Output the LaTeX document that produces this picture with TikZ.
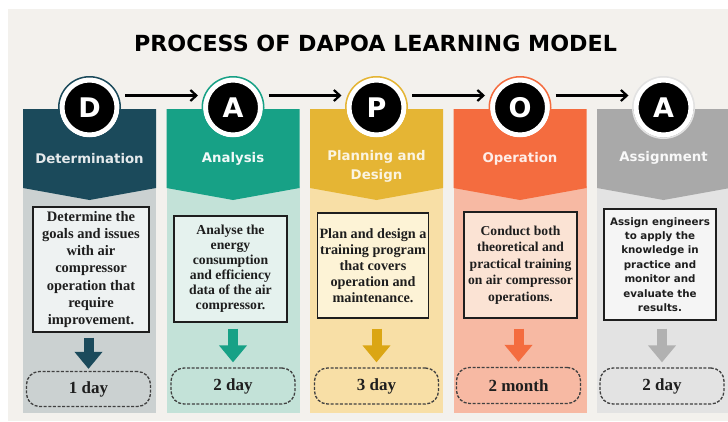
\documentclass[tikz,border=0pt]{standalone}
\usepackage{fontspec}
\setmainfont{Liberation Serif}
\newfontfamily\headfont{DejaVu Sans}
\usetikzlibrary{arrows.meta,calc}

% palette
\definecolor{pagebg}{HTML}{F3F1ED}
\definecolor{hdA}{HTML}{1B4A5B}\definecolor{bdA}{HTML}{CBD1D1}\definecolor{bxA}{HTML}{EEF2F2}
\definecolor{hdB}{HTML}{17A186}\definecolor{bdB}{HTML}{C3E2D8}\definecolor{bxB}{HTML}{E5F2EE}
\definecolor{hdC}{HTML}{E5B534}\definecolor{bdC}{HTML}{F8DFA6}\definecolor{bxC}{HTML}{FDF3D6}
\definecolor{hdD}{HTML}{F46C3F}\definecolor{bdD}{HTML}{F7B9A3}\definecolor{bxD}{HTML}{FBE3D4}
\definecolor{hdE}{HTML}{A9A9A9}\definecolor{bdE}{HTML}{E3E3E3}\definecolor{bxE}{HTML}{F5F5F5}
\definecolor{arC}{HTML}{DBA614}
\definecolor{ringE}{HTML}{E2E2E2}
\definecolor{inkdark}{HTML}{1E1E1E}

\tikzset{
  letter/.style={circle, fill=black, draw=white, line width=5pt, minimum size=55pt,
    inner sep=0pt, outer sep=0pt, text=white, font=\headfont\bfseries\fontsize{27}{27}\selectfont},
  ringline/.style={line width=1.5pt},
  flow/.style={line width=2.2pt, -{Straight Barb[length=6pt,width=11pt]}, shorten <=8pt, shorten >=7.5pt},
  headlabel/.style={align=center, font=\headfont\bfseries\fontsize{13.3}{19}\selectfont},
  textbox/.style={draw=inkdark, line width=1.4pt, inner sep=2pt, align=center, text=inkdark,
    font=\bfseries\fontsize{14.5}{17.2}\selectfont},
  downarr/.style={line width=10pt, -{Triangle[length=17pt,width=27pt]}},
  daybox/.style={draw=inkdark!85, line width=1.3pt, dash pattern=on 3pt off 1.6pt,
    rounded corners=13pt, minimum width=124pt, minimum height=35pt, inner sep=0pt,
    text=inkdark, font=\bfseries\fontsize{17}{17}\selectfont}
}

\begin{document}
\begin{tikzpicture}[x=1pt,y=-1pt]
\useasboundingbox (0,0) rectangle (728,421);
\clip (0,0) rectangle (728,421);
\fill[white] (0,0) rectangle (728,421);
\fill[pagebg] (8,9) rectangle (728,421);

% title
\node[font=\headfont\bfseries\fontsize{22.2}{24}\selectfont, text=black] (title) at (375.5,43.5)
  {PROCESS OF DAPOA LEARNING MODEL};

% column bands: chevron header over a light body
\foreach \cx/\hc/\bc in {89.5/hdA/bdA, 233/hdB/bdB, 376.5/hdC/bdC, 520/hdD/bdD, 663.5/hdE/bdE}{
  \fill[\bc] (\cx-66.5,186) rectangle (\cx+66.5,413);
  \fill[\hc] (\cx-66.5,109) -- (\cx+66.5,109) -- (\cx+66.5,188) -- (\cx,200) -- (\cx-66.5,188) -- cycle;
}

% step badges
\node[letter] (c1) at (89.5,107.5) {D};
\node[letter] (c2) at (233,107.5) {A};
\node[letter] (c3) at (376.5,107.5) {P};
\node[letter] (c4) at (520,107.5) {O};
\node[letter] (c5) at (663.5,107.5) {A};
\draw[ringline, hdA] (c1.center) circle[radius=30.75];
\draw[ringline, hdB] (c2.center) circle[radius=30.75];
\draw[ringline, hdC] (c3.center) circle[radius=30.75];
\draw[ringline, hdD] (c4.center) circle[radius=30.75];
\draw[ringline, ringE] (c5.center) circle[radius=30.75];

% flow between badges
\draw[flow] ([yshift=12pt]c1.east) -- ([yshift=12pt]c2.west);
\draw[flow] ([yshift=12pt]c2.east) -- ([yshift=12pt]c3.west);
\draw[flow] ([yshift=12pt]c3.east) -- ([yshift=12pt]c4.west);
\draw[flow] ([yshift=12pt]c4.east) -- ([yshift=12pt]c5.west);

% header labels
\node[headlabel, text=hdA!12!white] (h1) at (89.5,159) {Determination};
\node[headlabel, text=white!94!hdB] (h2) at (233,159) {Analysis};
\node[headlabel, text=white!85!hdC] (h3) at (376.5,166.5) {Planning and\\Design};
\node[headlabel, text=white!88!hdD] (h4) at (520,159) {Operation};
\node[headlabel, text=white!92!hdE] (h5) at (663.5,158) {Assignment};

% descriptions
\node[textbox, fill=bxA, minimum width=116pt, minimum height=125pt] (b1) at (91,269.5)
  {Determine the\\goals and issues\\with air\\compressor\\operation that\\require\\improvement.};
\node[textbox, fill=bxB, minimum width=113pt, minimum height=106pt,
  font=\bfseries\fontsize{13.7}{15}\selectfont] (b2) at (230.5,269)
  {Analyse the\\energy\\consumption\\and efficiency\\data of the air\\compressor.};
\node[textbox, fill=bxC, minimum width=110pt, minimum height=105pt,
  font=\bfseries\fontsize{14.2}{16}\selectfont] (b3) at (373,265.5)
  {Plan and design a\\training program\\that covers\\operation and\\maintenance.};
\node[textbox, fill=bxD, minimum width=113pt, minimum height=106pt,
  font=\bfseries\fontsize{13.6}{16.5}\selectfont] (b4) at (520.5,265)
  {Conduct both\\theoretical and\\practical training\\on air compressor\\operations.};
\node[textbox, fill=bxE, minimum width=112pt, minimum height=111pt,
  font=\headfont\bfseries\fontsize{10.3}{14.4}\selectfont] (b5) at (660,264.5)
  {Assign engineers\\to apply the\\knowledge in\\practice and\\monitor and\\evaluate the\\results.};

% durations
\node[daybox] (d1) at (88.5,389) {1 day};
\node[daybox, minimum height=36pt] (d2) at (233,386) {2 day};
\node[daybox, minimum height=36pt] (d3) at (376.5,386) {3 day};
\node[daybox, minimum height=36pt] (d4) at (518.5,385.5) {2 month};
\node[daybox, minimum height=36pt] (d5) at (662,386) {2 day};

% step to duration
\draw[downarr, hdA, shorten <=5pt, shorten >=2pt] (b1.south -| d1.north) -- (d1.north);
\draw[downarr, hdB, shorten <=6pt, shorten >=5pt] (b2.south -| d2.north) -- (d2.north);
\draw[downarr, arC, shorten <=10pt, shorten >=5pt] (b3.south -| d3.north) -- (d3.north);
\draw[downarr, hdD, shorten <=10pt, shorten >=5pt] (b4.south -| d4.north) -- (d4.north);
\draw[downarr, hdE!90!white, shorten <=8pt, shorten >=5pt] (b5.south -| d5.north) -- (d5.north);
\end{tikzpicture}
\end{document}
